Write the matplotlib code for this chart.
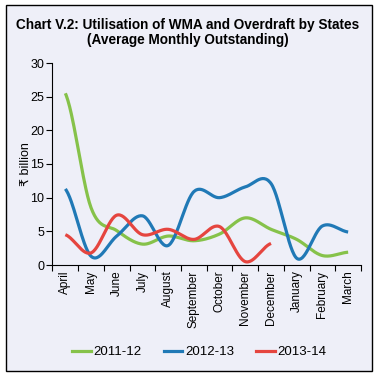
import numpy as np
import matplotlib
matplotlib.use("Agg")
import matplotlib.pyplot as plt
from matplotlib.patches import Rectangle
from matplotlib.lines import Line2D

months = ["April", "May", "June", "July", "August", "September", "October",
          "November", "December", "January", "February", "March"]
s2011 = [25.5, 8.5, 5.1, 3.1, 4.3, 3.6, 4.6, 7.0, 5.3, 3.8, 1.4, 1.9]
s2012 = [11.3, 1.3, 4.3, 7.3, 2.9, 10.9, 10.0, 11.6, 12.1, 1.0, 5.8, 4.9]
s2013 = [4.5, 1.8, 7.4, 4.5, 5.3, 3.8, 5.7, 0.5, 3.2]
series_names = ["2011-12", "2012-13", "2013-14"]
colors = ["#86C24A", "#2079B6", "#E5453F"]

bg = "#EEEFF8"


def smooth(xs, ys, n=30):
    """Catmull-Rom (Excel-like) smoothing for drawing between data points."""
    xs = np.asarray(xs, float)
    ys = np.asarray(ys, float)
    px = np.concatenate([[2 * xs[0] - xs[1]], xs, [2 * xs[-1] - xs[-2]]])
    py = np.concatenate([[ys[0]], ys, [ys[-1]]])
    out_x, out_y = [], []
    t = np.linspace(0, 1, n, endpoint=False)
    for i in range(1, len(px) - 2):
        p0, p1, p2, p3 = (np.array([px[j], py[j]]) for j in range(i - 1, i + 3))
        c1 = p1 + (p2 - p0) / 6.0
        c2 = p2 - (p3 - p1) / 6.0
        b = ((1 - t) ** 3)[:, None] * p1 + (3 * (1 - t) ** 2 * t)[:, None] * c1 \
            + (3 * (1 - t) * t ** 2)[:, None] * c2 + (t ** 3)[:, None] * p2
        out_x.extend(b[:, 0])
        out_y.extend(b[:, 1])
    out_x.append(xs[-1])
    out_y.append(ys[-1])
    return np.array(out_x), np.array(out_y)


fig = plt.figure(figsize=(3.76, 3.76), dpi=100, facecolor="white")
fig.patches.append(Rectangle((6 / 376, 5 / 376), 366 / 376, 366 / 376,
                             transform=fig.transFigure, facecolor=bg,
                             edgecolor="black", linewidth=1.0, zorder=-10))

ax = fig.add_axes([52.5 / 376, 1 - 265 / 376, (361 - 52.5) / 376, (265 - 63) / 376])
ax.set_facecolor(bg)
ax.patch.set_alpha(0)

fam = ["Liberation Sans", "DejaVu Sans"]

for vals, c in zip([s2011, s2012, s2013], colors):
    x = np.arange(len(vals))
    sx, sy = smooth(x, vals)
    ax.plot(sx, sy, color=c, linewidth=2.3, solid_capstyle="butt")

ax.set_xlim(-0.5, len(months) - 0.5)
ax.set_ylim(0, 30)
ax.set_yticks(np.arange(0, 31, 5))
ax.set_xticks(np.arange(len(months)))
ax.set_xticklabels(months, rotation=90, fontsize=8.5, family=fam)
ax.tick_params(axis="x", which="major", length=0, pad=4)
ax.set_xticks(np.arange(-0.5, len(months), 1), minor=True)
ax.tick_params(axis="x", which="minor", length=4, width=0.8, direction="out")
ax.tick_params(axis="y", length=4, width=0.8, labelsize=9, pad=2)
for lbl in ax.get_yticklabels():
    lbl.set_family(fam)
for sp in ["top", "right"]:
    ax.spines[sp].set_visible(False)
for sp in ["left", "bottom"]:
    ax.spines[sp].set_linewidth(0.8)

ax.set_ylabel("₹ billion", fontsize=9, family=fam, labelpad=-1)

fig.text(0.5, 1 - 25 / 376, "Chart V.2: Utilisation of WMA and Overdraft by States",
         ha="center", va="center", fontsize=9.8, fontweight="bold", family=fam)
fig.text(0.5, 1 - 40 / 376, "(Average Monthly Outstanding)",
         ha="center", va="center", fontsize=9.8, fontweight="bold", family=fam)

handles = [Line2D([], [], color=c, linewidth=2.3) for c in colors]
fig.legend(handles, series_names, loc="center", bbox_to_anchor=(0.53, 1 - 352 / 376),
           ncol=3, frameon=False, handlelength=1.4,
           handletextpad=0.2, columnspacing=1.7, prop={"family": fam, "size": 9.5})

fig.savefig("out.png", dpi=100, facecolor="white")
